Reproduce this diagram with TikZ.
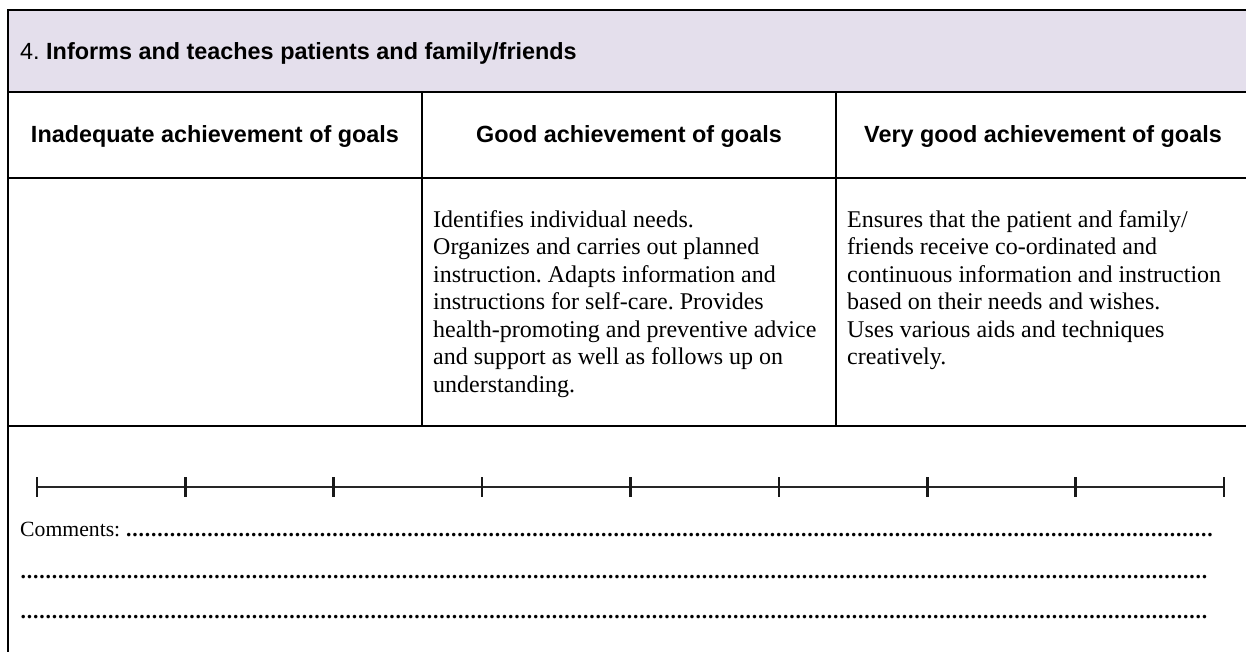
\documentclass[tikz,border=0pt]{standalone}
\usepackage{fontspec}
\setmainfont{Liberation Serif}
\newfontfamily\hdfont{Liberation Sans}
\definecolor{band}{HTML}{E4DFEC}
\newcommand{\dotrow}[1]{\hbox to #1{\leaders\hbox to 6.25pt{\hss\textbf{.}\hss}\hfill}}
\frenchspacing
\begin{document}
\begin{tikzpicture}[x=1pt,y=-1pt,
  rule/.style={line width=2pt},
  hd/.style={font=\hdfont\bfseries\fontsize{23.4}{28}\selectfont, inner sep=0pt, anchor=base},
  body/.style={font=\fontsize{24}{27.5}\selectfont, align=left, inner sep=0pt, anchor=base west},
  cmt/.style={font=\fontsize{21.7}{26}\selectfont, inner sep=0pt, anchor=base west},
  tickmark/.style={line width=2.6pt, draw=black!90},
  scaleline/.style={line width=2pt, draw=black!85}]
\useasboundingbox (0,0) rectangle (1246,651);
\clip (0,0) rectangle (1246,651);
% table
\fill[band] (8,10) rectangle (1260,92);
\draw[rule] (1260,10) -- (8,10) -- (8,660);
\draw[rule] (8,92) -- (1260,92);
\draw[rule] (8,178) -- (1260,178);
\draw[rule] (8,426) -- (1260,426);
\draw[rule] (422,92) -- (422,426);
\draw[rule] (836,92) -- (836,426);
% title
\node[hd, anchor=base west] (title) at (20,59) {\mdseries 4. \bfseries Informs and teaches patients and family/friends};
% column headers
\node[hd] (h1) at (215,142) {Inadequate achievement of goals};
\node[hd] (h2) at (629,142) {Good achievement of goals};
\node[hd] (h3) at (1043,142) {Very good achievement of goals};
% descriptions (base anchor = baseline of last line)
\node[body] (d2) at (433,392) {Identifies individual needs.\\
Organizes and carries out planned\\
instruction. Adapts information and\\
instructions for self-care. Provides\\
health-promoting and preventive advice\\
and support as well as follows up on\\
understanding.};
\node[body] (d3) at (847,364.5) {Ensures that the patient and family/\\
friends receive co-ordinated and\\
continuous information and instruction\\
based on their needs and wishes.\\
Uses various aids and techniques\\
creatively.};
% scale
\coordinate (s0) at (37,487);
\coordinate (s8) at (1224,487);
\draw[scaleline] (s0) -- (s8);
\foreach \i in {0,...,8} \draw[tickmark] ({37+\i*148.375},477) -- ++(0,20);
% comments
\node[cmt] (c1) at (20,536) {Comments: \dotrow{1092pt}};
\node[cmt] (c2) at (20,578) {\dotrow{1192pt}};
\node[cmt] (c3) at (20,618) {\dotrow{1192pt}};
\end{tikzpicture}
\end{document}
